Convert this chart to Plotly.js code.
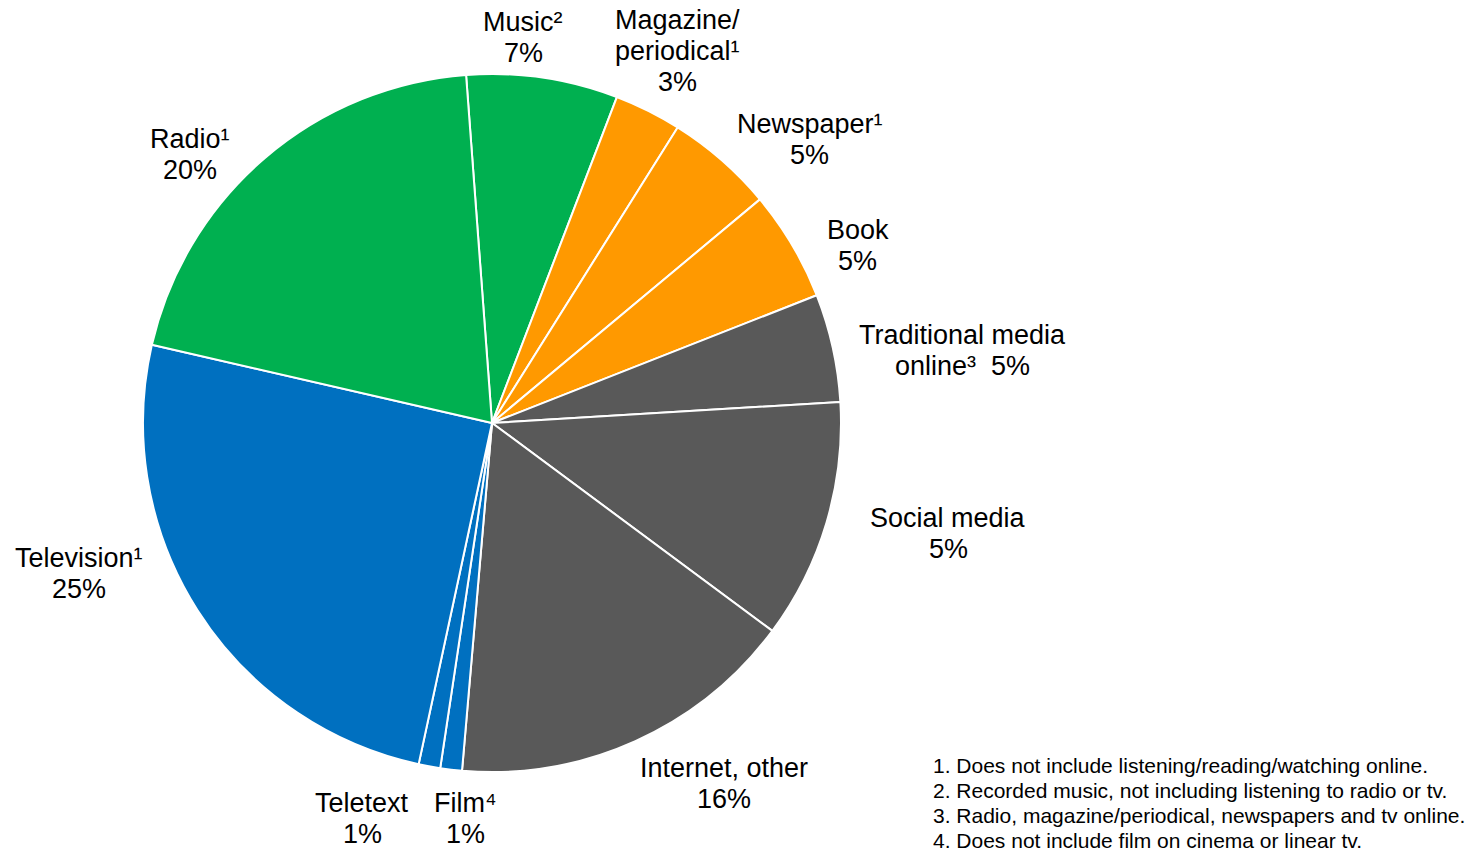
<!DOCTYPE html>
<html>
<head>
<meta charset="utf-8">
<script src="https://cdn.plot.ly/plotly-3.0.1.min.js"></script>
<style>html,body{margin:0;padding:0;background:#fff;}#chart{width:1483px;height:849px;}</style>
</head>
<body>
<div id="chart"></div>
<script>
// Slices in clockwise order starting at the top (Music)
const categories = ["Music", "Magazine/periodical", "Newspaper", "Book", "Traditional media online", "Social media", "Internet, other", "Film", "Teletext", "Television", "Radio"];
const shares = [7.0, 3.1, 5.0, 5.1, 5.0, 11.1, 16.2, 1.0, 1.0, 25.2, 20.2];
const sliceColors = ["#00B050", "#FF9900", "#FF9900", "#FF9900", "#595959", "#595959", "#595959", "#0070C0", "#0070C0", "#0070C0", "#00B050"];
const labelLines = [
  ["Music\u00b2", "7%"],
  ["Magazine/", "periodical\u00b9", "3%"],
  ["Newspaper\u00b9", "5%"],
  ["Book", "5%"],
  ["Traditional media", "online\u00b3\u00a0\u00a05%"],
  ["Social media", "5%"],
  ["Internet, other", "16%"],
  ["Film\u2074", "1%"],
  ["Teletext", "1%"],
  ["Television\u00b9", "25%"],
  ["Radio\u00b9", "20%"]
];
const footnotes = [
  "1. Does not include listening/reading/watching online.",
  "2. Recorded music, not including listening to radio or tv.",
  "3. Radio, magazine/periodical, newspapers and tv online.",
  "4. Does not include film on cinema or linear tv."
];

// layout: label centre x and first-line y, in pixels
const W = 1483, H = 849;
const labelPos = [[523,22],[677,20],[810,124],[858,230],[962,335],[948,518],[724,768],[465,803],[362,803],[79,558],[190,139]];
const LINE = 31, FOOT_LINE = 25;

const FONT = "Liberation Sans, Arial, sans-serif";
const annotations = [];
labelLines.forEach((lines, i) => {
  lines.forEach((t, j) => {
    annotations.push({
      text: t, x: labelPos[i][0] / W, y: 1 - (labelPos[i][1] + j * LINE) / H,
      xref: "paper", yref: "paper", xanchor: "center", yanchor: "middle",
      showarrow: false, font: {family: FONT, size: 27, color: "#000"}
    });
  });
});
footnotes.forEach((t, j) => {
  annotations.push({
    text: t, x: 931 / W, y: 1 - (765 + j * FOOT_LINE) / H,
    xref: "paper", yref: "paper", xanchor: "left", yanchor: "middle",
    showarrow: false, font: {family: FONT, size: 21, color: "#000"}
  });
});

const cx = 492, cy = 423, r = 349;
const trace = {
  type: "pie",
  labels: categories,
  values: shares,
  sort: false,
  direction: "clockwise",
  rotation: -4.26,
  textinfo: "none",
  hoverinfo: "label+percent",
  marker: {colors: sliceColors, line: {color: "#ffffff", width: 2}},
  domain: {x: [(cx - r) / W, (cx + r) / W], y: [1 - (cy + r) / H, 1 - (cy - r) / H]}
};

const layout = {
  width: W, height: H,
  margin: {l: 0, r: 0, t: 0, b: 0},
  showlegend: false,
  paper_bgcolor: "#ffffff",
  font: {family: FONT},
  annotations: annotations
};

Plotly.newPlot("chart", [trace], layout, {displayModeBar: false, staticPlot: true});
</script>
</body>
</html>
